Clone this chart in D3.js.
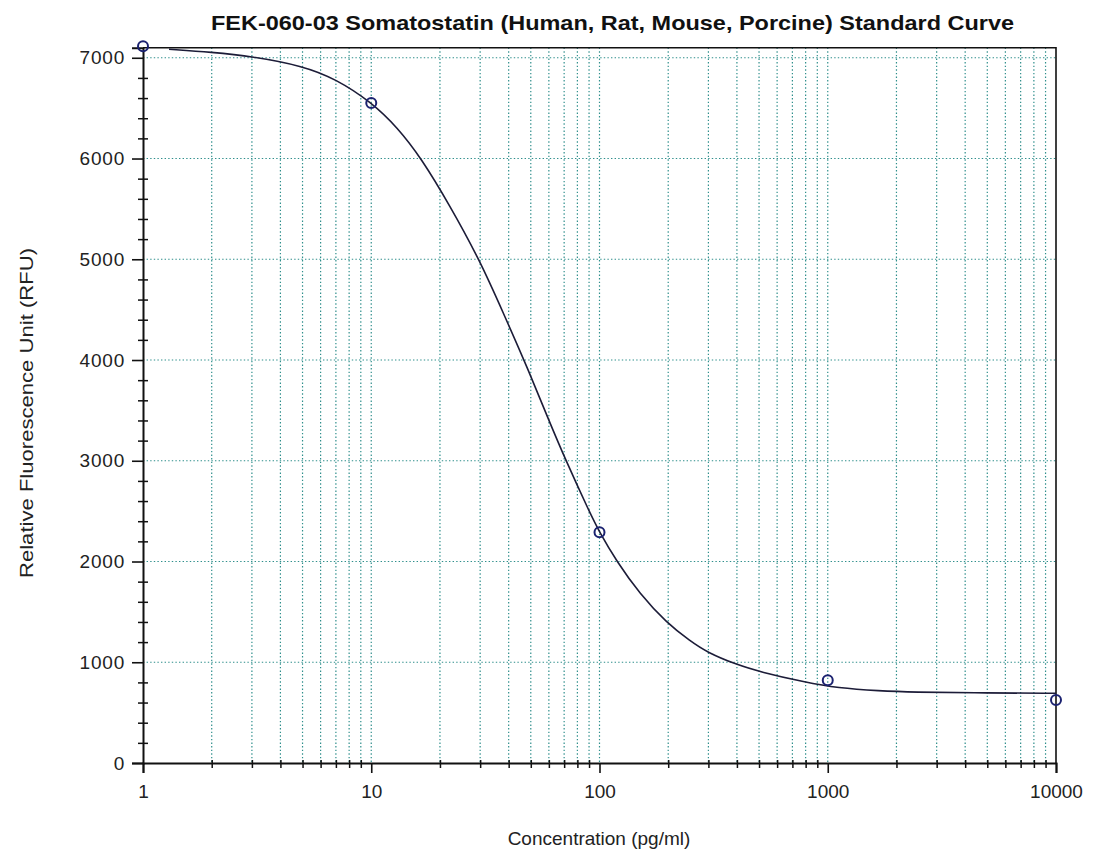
<!DOCTYPE html>
<html>
<head>
<meta charset="utf-8">
<script src="https://cdn.jsdelivr.net/npm/d3@7"></script>
<style>
  html, body { margin: 0; padding: 0; background: #fff; }
  svg { display: block; font-family: "Liberation Sans", Arial, sans-serif; }
  .grid line { stroke: #2f8f8c; stroke-width: 1.2; stroke-dasharray: 1.4 2.2; }
  .axis path, .axis line { stroke: #111; }
  .axis text { font-size: 19px; fill: #222; font-family: "Liberation Sans", Arial, sans-serif; }
</style>
</head>
<body>
<svg id="chart" width="1094" height="854"></svg>
<script>
// Standard points (concentration pg/ml, RFU)
const standardConc = [1, 10, 100, 1000, 10000];
const standardRfu = [7115, 6551, 2291, 822, 626];

// Fitted curve
const curveConc = [1.3, 2, 3, 5, 7, 10, 13, 16.6, 22, 29.9, 38, 48, 60, 71.3, 90, 100,
  119, 150, 197, 250, 295, 400, 505, 800, 1100, 1700, 2300, 5000, 10000];
const curveRfu = [7085, 7055, 7015, 6920, 6790, 6560, 6310, 6000, 5540, 4990, 4460, 3940, 3400, 3000, 2500, 2290,
  2000, 1680, 1390, 1210, 1100, 975, 905, 800, 745, 715, 703, 695, 692];

// Axis ticks
const xTicks = [1, 10, 100, 1000, 10000];
const yTicks = [0, 1000, 2000, 3000, 4000, 5000, 6000, 7000];

const title = "FEK-060-03 Somatostatin (Human, Rat, Mouse, Porcine) Standard Curve";
const xTitle = "Concentration (pg/ml)";
const yTitle = "Relative Fluorescence Unit (RFU)";

const svg = d3.select("#chart");
const [ml, mr, mt, mb] = [143, 1056, 47.7, 763];

const x = d3.scaleLog().domain([1, 10000]).range([ml, mr]);
const y = d3.scaleLinear().domain([0, 7100]).range([mb, mt]);

// minor ticks: 2..9 of each decade, every 200 on y
const xMinor = [];
for (let d = 1; d < 10000; d *= 10) for (let k = 2; k <= 9; k++) xMinor.push(d * k);
const yMinor = d3.range(200, 7100, 200).filter((v) => v % 1000 !== 0);

// Grid
svg.append("g").attr("class", "grid")
  .selectAll("line")
  .data(xMinor.concat([10, 100, 1000]))
  .join("line")
  .attr("x1", (d) => x(d)).attr("x2", (d) => x(d))
  .attr("y1", mt).attr("y2", mb);

svg.append("g").attr("class", "grid")
  .selectAll("line")
  .data(yTicks.filter((v) => v > 0))
  .join("line")
  .attr("x1", ml).attr("x2", mr)
  .attr("y1", (d) => y(d)).attr("y2", (d) => y(d));

// Frame (top and right)
svg.append("path")
  .attr("d", `M${ml},${mt}H${mr}V${mb}`)
  .attr("fill", "none").attr("stroke", "#111").attr("stroke-width", 1.6);

// X axis
const xAxis = svg.append("g").attr("class", "axis")
  .attr("transform", `translate(0,${mb})`)
  .call(d3.axisBottom(x).tickValues(xTicks).tickFormat(d3.format("d")).tickSize(10).tickPadding(12));
xAxis.select(".domain").attr("stroke-width", 2);
xAxis.selectAll(".tick line").attr("stroke-width", 1.6);

svg.append("g").attr("class", "axis")
  .attr("transform", `translate(0,${mb - 3})`)
  .call(d3.axisBottom(x).tickValues(xMinor).tickFormat("").tickSize(8))
  .call((g) => g.select(".domain").remove())
  .selectAll(".tick line").attr("stroke-width", 1.5);

// Y axis
const yAxis = svg.append("g").attr("class", "axis")
  .attr("transform", `translate(${ml},0)`)
  .call(d3.axisLeft(y).tickValues(yTicks).tickFormat(d3.format("d")).tickSize(11).tickPadding(7));
yAxis.select(".domain").attr("stroke-width", 2);
yAxis.selectAll(".tick line").attr("stroke-width", 1.6);
yAxis.selectAll("text").attr("letter-spacing", "0.8px");

svg.append("g").attr("class", "axis")
  .attr("transform", `translate(${ml + 5},0)`)
  .call(d3.axisLeft(y).tickValues(yMinor).tickFormat("").tickSize(10))
  .call((g) => g.select(".domain").remove())
  .selectAll(".tick line").attr("stroke-width", 1.5);

// Curve
const line = d3.line()
  .x((d, i) => x(curveConc[i]))
  .y((d, i) => y(curveRfu[i]))
  .curve(d3.curveBasis);

svg.append("path")
  .datum(curveConc)
  .attr("d", line)
  .attr("fill", "none")
  .attr("stroke", "#1c1c38")
  .attr("stroke-width", 1.6);

// Points
svg.append("g")
  .selectAll("circle")
  .data(standardConc)
  .join("circle")
  .attr("cx", (d) => x(d))
  .attr("cy", (d, i) => y(standardRfu[i]))
  .attr("r", 5)
  .attr("fill", "none")
  .attr("stroke", "#1b2270")
  .attr("stroke-width", 2);

// Titles
svg.append("text")
  .attr("x", 211).attr("y", 30)
  .attr("textLength", 803).attr("lengthAdjust", "spacingAndGlyphs")
  .attr("font-size", 21).attr("font-weight", "bold").attr("fill", "#111")
  .text(title);

svg.append("text")
  .attr("x", 599).attr("y", 845)
  .attr("text-anchor", "middle")
  .attr("font-size", 19).attr("fill", "#222")
  .text(xTitle);

svg.append("text")
  .attr("transform", "translate(33,413) rotate(-90)")
  .attr("text-anchor", "middle")
  .attr("textLength", 330).attr("lengthAdjust", "spacingAndGlyphs")
  .attr("font-size", 19).attr("fill", "#222")
  .text(yTitle);
</script>
</body>
</html>
